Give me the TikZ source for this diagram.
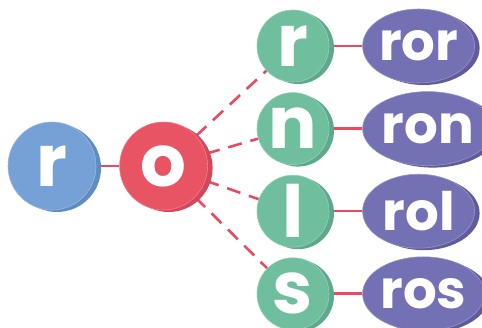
\documentclass[tikz,border=0pt]{standalone}
\usepackage{fontspec}
\setmainfont{Poppins}
\usepackage{tikz}
\usetikzlibrary{positioning,shapes.geometric,backgrounds}
\definecolor{bleu}{HTML}{76A1D6}
\definecolor{bleuD}{HTML}{5E8DC2}
\definecolor{rouge}{HTML}{E85464}
\definecolor{rougeD}{HTML}{D2475A}
\definecolor{vert}{HTML}{6FBF9F}
\definecolor{vertD}{HTML}{5FA98A}
\definecolor{violet}{HTML}{7371B3}
\definecolor{violetD}{HTML}{5F5C9C}
\definecolor{lienC}{HTML}{E84A5F}
\tikzset{
  bille/.style={circle, fill=#1, draw=#1!75!white, line width=0.6pt, inner sep=0pt,
                text=white, font=\fontsize{72}{72}\selectfont\bfseries,
                preaction={fill=#1D, transform canvas={shift={(5pt,-2pt)}}}},
  mot/.style={ellipse, fill=#1, draw=#1!75!white, line width=0.6pt, inner sep=0pt,
              minimum width=112pt, minimum height=74pt,
              text=white, font=\fontsize{53}{53}\selectfont\bfseries,
              preaction={fill=#1D, transform canvas={shift={(5pt,-2pt)}}}},
  lien/.style={draw=lienC, line width=2.6pt},
  pointille/.style={lien, dash pattern=on 14pt off 9pt},
}
\begin{document}
\begin{tikzpicture}[x=1pt, y=-1pt, node distance=23pt]
  \useasboundingbox (0,0) rectangle (482,328);
  \node[bille=bleu, minimum size=88pt] (r) at (52,166) {r};
  \node[bille=rouge, minimum size=88pt, right=of r] (o) {o};
  \node[bille=vert, minimum size=72pt] (gr) at (293,46) {r};
  \node[bille=vert, minimum size=72pt, below=10pt of gr] (gn) {n};
  \node[bille=vert, minimum size=72pt, below=10pt of gn] (gl) {l};
  \node[bille=vert, minimum size=72pt, below=10pt of gl] (gs) {s};
  \node[mot=violet, right=33pt of gr] (ror) {ror};
  \node[mot=violet, right=33pt of gn] (ron) {ron};
  \node[mot=violet, right=33pt of gl] (rol) {rol};
  \node[mot=violet, right=33pt of gs] (ros) {ros};
  \begin{scope}[on background layer]
    \draw[lien](r)--(o);
    \foreach \g in {gr,gn,gl,gs} {\draw[pointille](o)--(\g);}
    \draw[lien](gr)--(ror); \draw[lien](gn)--(ron); \draw[lien](gl)--(rol); \draw[lien](gs)--(ros);
  \end{scope}
\end{tikzpicture}
\end{document}
